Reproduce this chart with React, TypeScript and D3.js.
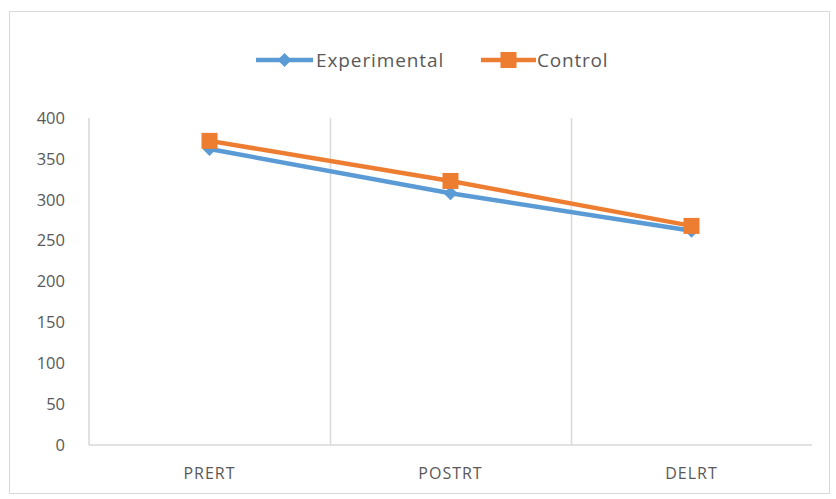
import React from "react";
import * as d3 from "d3";

const categories = ["PRERT", "POSTRT", "DELRT"];
const experimental = [362, 308, 262];
const control = [372, 323, 268];
const yTicks = [0, 50, 100, 150, 200, 250, 300, 350, 400];
const seriesNames = ["Experimental", "Control"];

const W = 836;
const H = 499;
const BLUE = "#5B9BD5";
const ORANGE = "#ED7D31";
const GRID = "#D9D9D9";
const TEXT = "#595959";
const FONT = "'Open Sans', 'Noto Sans', sans-serif";

// Diamond marker: a square turned 45 degrees
const diamond = (r: number) => `M0,${-r}L${r},0L0,${r}L${-r},0Z`;

export default function App() {
  const x = d3.scaleBand<string>().domain(categories).range([89, 812]).paddingInner(0).paddingOuter(0);
  const y = d3.scaleLinear().domain([0, 400]).range([445, 118]);
  const cx = (i: number) => (x(categories[i]) as number) + x.bandwidth() / 2;
  const line = d3
    .line<number>()
    .x((_, i) => cx(i))
    .y((d) => y(d));

  return (
    <div style={{ position: "absolute", left: 0, top: 0 }}>
      <svg width={W} height={H} style={{ display: "block", background: "#fff" }}>
        <rect x={9.5} y={11.5} width={820} height={482} fill="#fff" stroke="#D9D9D9" strokeWidth={1} />

        {/* vertical gridlines at category boundaries */}
        {categories.slice(1).map((c) => (
          <line key={c} x1={(x(c) as number) + 0.5} x2={(x(c) as number) + 0.5} y1={y(400)} y2={y(0)} stroke={GRID} strokeWidth={1.5} />
        ))}
        <line x1={89} x2={89} y1={y(400)} y2={y(0)} stroke={GRID} strokeWidth={1.5} />
        <line x1={89} x2={812} y1={y(0)} y2={y(0)} stroke={GRID} strokeWidth={1.5} />

        {/* y tick labels */}
        {yTicks.map((t) => (
          <text key={t} x={65} y={y(t)} dy="0.35em" textAnchor="end" fontFamily={FONT} fontSize={16.5} fill={TEXT}>
            {t}
          </text>
        ))}

        {/* category labels */}
        {categories.map((c, i) => (
          <text key={c} x={cx(i)} y={473} dy="0.35em" textAnchor="middle" fontFamily={FONT} fontSize={16} letterSpacing={1} fill={TEXT}>
            {c}
          </text>
        ))}

        {/* experimental series */}
        <path d={line(experimental) || ""} fill="none" stroke={BLUE} strokeWidth={4.5} strokeLinejoin="round" />
        {experimental.map((v, i) => (
          <path key={i} d={diamond(7)} transform={`translate(${cx(i)},${y(v)})`} fill={BLUE} />
        ))}

        {/* control series */}
        <path d={line(control) || ""} fill="none" stroke={ORANGE} strokeWidth={4.5} strokeLinejoin="round" />
        {control.map((v, i) => (
          <rect key={i} x={cx(i) - 8} y={y(v) - 8} width={16} height={16} fill={ORANGE} />
        ))}

        {/* legend */}
        <g>
          <line x1={256} x2={313} y1={60} y2={60} stroke={BLUE} strokeWidth={4.5} />
          <path d={diamond(7)} transform="translate(284.5,60)" fill={BLUE} />
          <text x={316} y={60} dy="0.35em" fontFamily={FONT} fontSize={19} letterSpacing={0.9} fill={TEXT}>
            {seriesNames[0]}
          </text>
          <line x1={481} x2={536} y1={60} y2={60} stroke={ORANGE} strokeWidth={4.5} />
          <rect x={500.5} y={52} width={16} height={16} fill={ORANGE} />
          <text x={537} y={60} dy="0.35em" fontFamily={FONT} fontSize={19} letterSpacing={0.8} fill={TEXT}>
            {seriesNames[1]}
          </text>
        </g>
      </svg>
    </div>
  );
}
